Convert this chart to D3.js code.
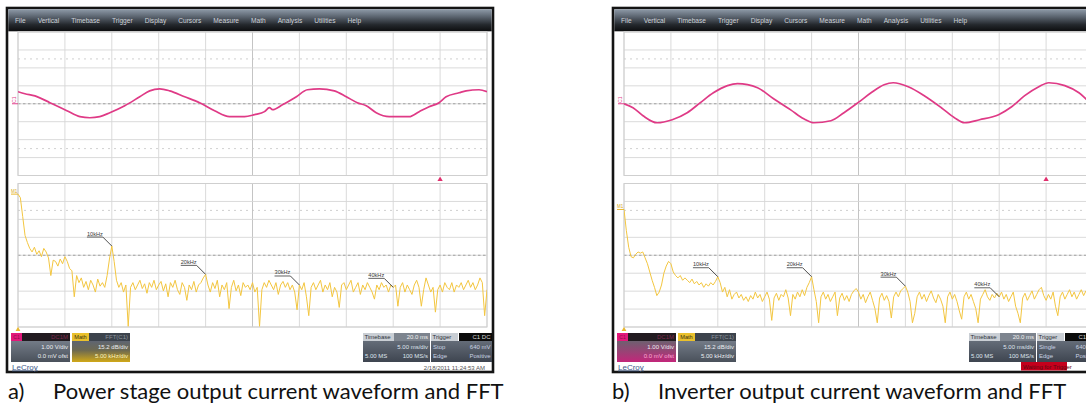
<!DOCTYPE html>
<html><head><meta charset="utf-8">
<script src="https://cdn.jsdelivr.net/npm/d3@7"></script>
<style>body{margin:0;background:#fff;} svg{display:block;}</style>
</head><body>
<svg id="c" width="1086" height="404"></svg>
<script>
// ---------------- DATA ----------------
// Upper trace: time (ms) and current (div, 1.00 V/div)
const timeMsA = [0,0.74,1.81,3.40,5.21,6.60,7.66,8.72,9.79,11.38,12.98,14.04,15.11,16.17,17.77,19.36,20.96,22.55,24.15,25.21,26.28,26.81,27.13,28.19,29.68,30.85,32.13,33.72,35.00,36.17,37.13,38.19,39.57,41.70,42.77,43.83,44.89,45.64,47.02,47.77,49.15,50.0];
const currentA = [0.67,0.56,0.44,0.06,-0.39,-0.72,-0.78,-0.72,-0.50,-0.11,0.39,0.72,0.83,0.72,0.39,0.06,-0.39,-0.72,-0.72,-0.61,-0.44,-0.22,-0.33,-0.06,0.39,0.78,0.83,0.72,0.39,0.06,-0.11,-0.50,-0.72,-0.72,-0.44,-0.17,0.06,0.39,0.61,0.72,0.78,0.67];
const timeMsB = [0,0.96,2.03,3.53,5.14,6.74,8.14,9.53,11.03,12.10,14.24,15.95,17.77,19.17,20.24,22.06,23.45,24.95,26.34,27.73,28.70,30.30,32.01,33.83,35.23,36.30,37.90,39.94,41.33,42.72,44.22,45.29,47.00,48.50,49.57,50.0];
const currentB = [0,-0.22,-0.67,-1.06,-0.89,-0.50,0.06,0.61,1.01,1.12,0.89,0.28,-0.34,-0.84,-1.06,-0.95,-0.50,0.06,0.61,1.06,1.17,0.95,0.45,-0.22,-0.78,-1.06,-0.89,-0.61,-0.17,0.45,0.95,1.17,1.01,0.61,0.11,-0.10];

// FFT traces (dB relative to top of grid, 15.2 dB/div), bins every 0.25 kHz from 0 to 50 kHz
const fftStepKHz = 0.25;
const fftA = [
 -9,-12,-28,-44,-50,-55,-58,-54,-60,-57,-62,-55,-58,-63,-78,-65,-66,-70,-64,-68,
 -62,-66,-72,-74,-96,-78,-84,-80,-88,-83,-90,-82,-86,-92,-81,-87,-84,-88,-78,-64,
 -53,-66,-82,-88,-84,-92,-86,-121,-88,-84,-90,-86,-82,-89,-85,-93,-84,-88,-82,-90,
 -86,-83,-91,-85,-96,-84,-88,-82,-90,-94,-84,-88,-99,-86,-90,-83,-92,-86,-84,-80,
 -77,-86,-92,-84,-89,-82,-96,-86,-90,-84,-106,-88,-82,-91,-86,-95,-84,-88,-86,-90,
 -84,-92,-88,-121,-90,-84,-88,-82,-86,-90,-84,-94,-86,-83,-88,-84,-90,-86,-92,-107,
 -86,-90,-84,-96,-112,-88,-84,-90,-86,-82,-92,-86,-90,-84,-96,-88,-92,-105,-86,-84,
 -90,-86,-82,-92,-88,-84,-94,-86,-90,-84,-88,-92,-98,-86,-90,-84,-88,-86,-92,-86,
 -88,-86,-104,-88,-84,-92,-86,-90,-94,-86,-82,-88,-104,-90,-80,-86,-92,-88,-109,-90,
 -86,-92,-84,-88,-90,-84,-92,-86,-88,-84,-90,-86,-82,-88,-84,-90,-86,-80,-84,-112,-90];
const fftB = [
 -22,-40,-54,-62,-63,-60,-58,-59,-58,-63,-68,-75,-82,-88,-95,-92,-86,-76,-70,-66,
 -68,-75,-78,-80,-78,-82,-80,-82,-84,-81,-85,-83,-86,-84,-88,-85,-87,-84,-86,-83,
 -79,-84,-92,-88,-96,-90,-98,-94,-92,-97,-94,-99,-96,-100,-95,-98,-92,-97,-94,-100,
 -96,-92,-98,-116,-97,-93,-99,-94,-96,-90,-97,-112,-94,-98,-92,-96,-90,-95,-88,-84,
 -79,-90,-100,-118,-96,-92,-98,-94,-100,-96,-92,-112,-97,-93,-99,-95,-100,-94,-91,-89,
 -92,-98,-94,-101,-96,-92,-99,-106,-118,-97,-93,-99,-95,-100,-114,-96,-92,-96,-91,-89,
 -87,-92,-100,-118,-110,-96,-92,-98,-94,-100,-95,-91,-97,-101,-94,-98,-104,-118,-96,-92,
 -98,-94,-100,-108,-115,-96,-92,-98,-94,-100,-106,-118,-98,-94,-90,-96,-99,-94,-97,-93,
 -96,-92,-98,-94,-100,-96,-92,-104,-110,-118,-97,-93,-99,-95,-91,-98,-94,-90,-88,-95,
 -99,-94,-98,-92,-104,-112,-96,-92,-98,-94,-90,-96,-92,-98,-94,-90,-95,-91,-97,-93,-96];

const markerKHz = [10,20,30,40];
const markerLabels = ["10kHz","20kHz","30kHz","40kHz"];

// Grid ticks
const timeTicks = [0,5,10,15,20,25,30,35,40,45,50];
const voltTicks = [-4,-3,-2,-1,0,1,2,3,4];
const dbTicks = [0,-15.2,-30.4,-45.6,-60.8,-76,-91.2,-106.4,-121.6];
const triggerTimeMs = 45;

// Texts
const menuItems = ["File","Vertical","Timebase","Trigger","Display","Cursors","Measure","Math","Analysis","Utilities","Help"];
const captionLetters = ["a)","b)"];
const captionTexts = ["Power stage output current waveform and FFT","Inverter output current waveform and FFT"];
const c1Lines = ["1.00 V/div","0.0 mV ofst"];
const mathLines = ["15.2 dB/div","5.00 kHz/div"];
const timebaseLines = ["20.0 ms","5.00 ms/div","5.00 MS","100 MS/s"];
const triggerModes = ["Stop","Single"];
const triggerLines = ["640 mV","Edge","Positive"];
const dateText = "2/18/2011 11:24:53 AM";
const waitText = "Waiting for Trigger";

// ---------------- DRAWING ----------------
const svg = d3.select("#c");
const defs = svg.append("defs");
function lg(id, stops){
  const g = defs.append("linearGradient").attr("id",id).attr("x1",0).attr("y1",0).attr("x2",0).attr("y2",1);
  stops.forEach(([o,c])=>g.append("stop").attr("offset",o).attr("stop-color",c));
}
lg("menu", [[0,"#8e9aa8"],[0.35,"#59626d"],[0.7,"#24282d"],[1,"#0c0d0f"]]);
lg("bodyGray", [[0,"#737b87"],[1,"#4a515b"]]);
lg("bodyPink", [[0,"#6e6070"],[1,"#c3267a"]]);
lg("bodyYellow", [[0,"#5e6572"],[0.45,"#6e6a50"],[1,"#d0a818"]]);
lg("bodyTb", [[0,"#646c78"],[1,"#3e4550"]]);

const FW = 486, FT = 8, FB = 372;
const GX = 11, GW = 469;
const UT = 32, UB = 175.5, LT = 183.5, LB = 327;
const UI = "'Liberation Sans', Arial, sans-serif";
const CAP = "Lato, 'Open Sans', sans-serif";

const scopes = [
  {ox:7, time:timeMsA, cur:currentA, fft:fftA, c1Sel:false, mathSel:true, trig:triggerModes[0], date:true, wait:false, capDx:[1,46]},
  {ox:613, time:timeMsB, cur:currentB, fft:fftB, c1Sel:true, mathSel:false, trig:triggerModes[1], date:false, wait:true, capDx:[-1,45]}
];

function txt(g, x, y, s, o={}){
  return g.append("text").attr("x",x).attr("y",y).text(s)
    .attr("font-family", o.ff || UI).attr("font-size", o.fs || 6)
    .attr("fill", o.fill || "#eee").attr("text-anchor", o.anchor || "start");
}

scopes.forEach((s, si) => {
  const ox = s.ox;
  const g = svg.append("g");
  // frame
  g.append("rect").attr("x",ox).attr("y",FT).attr("width",FW).attr("height",FB-FT)
    .attr("fill","#fff").attr("stroke","#141414").attr("stroke-width",2.6);
  // menu bar
  g.append("rect").attr("x",ox+1.3).attr("y",FT+1.3).attr("width",FW-2.6).attr("height",22)
    .attr("fill","url(#menu)");
  let mx = ox + 8;
  menuItems.forEach(m => {
    const t = txt(g, mx, 22.5, m, {fs:6.6, fill:"#cdd2d8"});
    mx += t.node().getComputedTextLength() + 12;
  });

  const x = d3.scaleLinear().domain([0,50]).range([ox+GX, ox+GX+GW]);
  const yU = d3.scaleLinear().domain([-4,4]).range([UB, UT]);
  const yL = d3.scaleLinear().domain([-121.6,0]).range([LB, LT]);

  // clip paths
  const cu = "cu"+si, cl = "cl"+si;
  defs.append("clipPath").attr("id",cu).append("rect").attr("x",x(0)).attr("y",UT).attr("width",GW).attr("height",UB-UT);
  defs.append("clipPath").attr("id",cl).append("rect").attr("x",x(0)).attr("y",LT-1).attr("width",GW).attr("height",LB-LT+1);

  function grid(yScale, ticks, top, bottom, center, dotted){
    const gg = g.append("g");
    gg.selectAll(".v").data(timeTicks).join("line")
      .attr("x1",d=>x(d)).attr("x2",d=>x(d)).attr("y1",top).attr("y2",bottom)
      .attr("stroke",d=> d===25 ? "#bdbdbd" : "#d6d6d6").attr("stroke-width",0.9);
    gg.selectAll(".h").data(ticks).join("line")
      .attr("x1",x(0)).attr("x2",x(50)).attr("y1",d=>yScale(d)).attr("y2",d=>yScale(d))
      .attr("stroke","#d6d6d6").attr("stroke-width",0.9);
    dotted.forEach(v => gg.append("line").attr("x1",x(0)).attr("x2",x(50)).attr("y1",yScale(v)).attr("y2",yScale(v))
      .attr("stroke","#c4c4c4").attr("stroke-width",0.8).attr("stroke-dasharray","2,4"));
    gg.append("line").attr("x1",x(0)).attr("x2",x(50)).attr("y1",yScale(center)).attr("y2",yScale(center))
      .attr("stroke","#9a9a9a").attr("stroke-width",0.9).attr("stroke-dasharray","2.5,2.5");
    gg.append("rect").attr("x",x(0)).attr("y",top).attr("width",GW).attr("height",bottom-top)
      .attr("fill","none").attr("stroke","#cfcfcf").attr("stroke-width",1);
  }
  grid(yU, voltTicks, UT, UB, 0, [2.5,-2.5]);
  grid(yL, dbTicks, LT, LB, -60.8, [-22.8]);

  // upper waveform
  const pts = s.time.map((t,i)=>[t, s.cur[i]]);
  g.append("path").attr("clip-path",`url(#${cu})`)
    .attr("d", d3.line().x(d=>x(d[0])).y(d=>yU(d[1])).curve(d3.curveMonotoneX)(pts))
    .attr("fill","none").attr("stroke","#df3a86").attr("stroke-width",1.7).attr("stroke-linejoin","round");

  // FFT
  const fx = d3.scaleLinear().domain([0,50]).range([ox+GX, ox+GX+GW]);
  g.append("path").attr("clip-path",`url(#${cl})`)
    .attr("d", d3.line().x((d,i)=>fx(i*fftStepKHz)).y(d=>yL(d))(s.fft))
    .attr("fill","none").attr("stroke","#f3c640").attr("stroke-width",1).attr("stroke-linejoin","round");

  // markers
  markerKHz.forEach((k,j) => {
    const px = fx(k), py = yL(s.fft[Math.round(k/fftStepKHz)]);
    const ex = px - 9, ey = py - 9;
    g.append("line").attr("x1",px).attr("y1",py).attr("x2",ex).attr("y2",ey).attr("stroke","#3a3a3a").attr("stroke-width",0.9);
    const t = txt(g, ex, ey-1.5, markerLabels[j], {fs:5.6, fill:"#3a3a3a", anchor:"end"});
    const w = t.node().getComputedTextLength();
    g.append("line").attr("x1",ex-w).attr("x2",ex).attr("y1",ey).attr("y2",ey).attr("stroke","#3a3a3a").attr("stroke-width",0.8);
  });

  // channel labels on left edge
  const c1y = yU(0);
  g.append("line").attr("x1",ox+5).attr("x2",ox+GX).attr("y1",c1y).attr("y2",c1y).attr("stroke","#e0408a").attr("stroke-width",1);
  txt(g, 0, 0, "C1", {fs:5, fill:"#e0408a", anchor:"middle"}).attr("transform",`translate(${ox+8.5},${c1y-4}) rotate(-90)`);
  const m1y = yL(s.fft[0]);
  g.append("line").attr("x1",ox+4).attr("x2",ox+GX).attr("y1",m1y).attr("y2",m1y).attr("stroke","#e8b830").attr("stroke-width",1);
  txt(g, ox+4, m1y-1, "M1", {fs:4.5, fill:"#d8a820"});
  // zero-frequency marker (bottom) and trigger marker
  g.append("path").attr("d", d3.symbol().type(d3.symbolTriangle).size(10)()).attr("transform",`translate(${fx(0)},${LB+2.5})`).attr("fill","#e8b830");
  g.append("path").attr("d", d3.symbol().type(d3.symbolTriangle).size(12)()).attr("transform",`translate(${x(triggerTimeMs)},${(UB+LT)/2})`).attr("fill","#e0306e");

  // ---- info boxes ----
  const by = 333, hh = 8, bh = 21;
  // C1 box
  g.append("rect").attr("x",ox+4).attr("y",by).attr("width",11).attr("height",hh).attr("fill","#e2187a");
  g.append("rect").attr("x",ox+15).attr("y",by).attr("width",48).attr("height",hh).attr("fill","#221b20");
  txt(g, ox+61, by+6.3, "DC1M", {fs:6, fill:"#7e2a4c", anchor:"end"});
  txt(g, ox+9.5, by+6.2, "C1", {fs:5, fill:"#8a1048", anchor:"middle"});
  g.append("rect").attr("x",ox+4).attr("y",by+hh).attr("width",59).attr("height",bh).attr("fill", s.c1Sel ? "url(#bodyPink)" : "url(#bodyGray)");
  txt(g, ox+61, by+hh+8, c1Lines[0], {fs:6, fill:"#eceff2", anchor:"end"});
  txt(g, ox+61, by+hh+17, c1Lines[1], {fs:6, fill: s.c1Sel ? "#ffa6d6" : "#eceff2", anchor:"end"});
  // Math box
  g.append("rect").attr("x",ox+65).attr("y",by).attr("width",17).attr("height",hh).attr("fill","#e9c02c");
  txt(g, ox+73.5, by+6.3, "Math", {fs:5.6, fill:"#3a3210", anchor:"middle"});
  g.append("rect").attr("x",ox+82).attr("y",by).attr("width",41).attr("height",hh).attr("fill","#3c434c");
  txt(g, ox+121, by+6.3, "FFT(C1)", {fs:6, fill:"#8c939c", anchor:"end"});
  g.append("rect").attr("x",ox+65).attr("y",by+hh).attr("width",58).attr("height",bh).attr("fill", s.mathSel ? "url(#bodyYellow)" : "url(#bodyGray)");
  txt(g, ox+121, by+hh+8, mathLines[0], {fs:6, fill:"#eceff2", anchor:"end"});
  txt(g, ox+121, by+hh+17, mathLines[1], {fs:6, fill: s.mathSel ? "#fff4b8" : "#eceff2", anchor:"end"});
  // Timebase box
  const tx = ox+356;
  g.append("rect").attr("x",tx).attr("y",by).attr("width",31).attr("height",hh).attr("fill","#c9ced4");
  txt(g, tx+1.5, by+6.3, "Timebase", {fs:6, fill:"#2c3038"});
  g.append("rect").attr("x",tx+31).attr("y",by).attr("width",36).attr("height",hh).attr("fill","#7d848e");
  txt(g, tx+65, by+6.3, timebaseLines[0], {fs:6, fill:"#f0f0f0", anchor:"end"});
  g.append("rect").attr("x",tx).attr("y",by+hh).attr("width",67).attr("height",bh).attr("fill","url(#bodyTb)");
  txt(g, tx+65, by+hh+8, timebaseLines[1], {fs:6, fill:"#dfe5ee", anchor:"end"});
  txt(g, tx+2, by+hh+17, timebaseLines[2], {fs:6, fill:"#dfe5ee"});
  txt(g, tx+65, by+hh+17, timebaseLines[3], {fs:6, fill:"#dfe5ee", anchor:"end"});
  // Trigger box
  const rx = ox+424;
  g.append("rect").attr("x",rx).attr("y",by).attr("width",27).attr("height",hh).attr("fill","#c9ced4");
  txt(g, rx+1.5, by+6.3, "Trigger", {fs:6, fill:"#2c3038"});
  g.append("rect").attr("x",rx+28).attr("y",by).attr("width",33).attr("height",hh).attr("fill","#0b0b0b");
  txt(g, rx+59.5, by+6.3, "C1 DC", {fs:6, fill:"#d8d8d8", anchor:"end"});
  g.append("rect").attr("x",rx).attr("y",by+hh).attr("width",61).attr("height",bh).attr("fill","url(#bodyTb)");
  txt(g, rx+2, by+hh+8, s.trig, {fs:6, fill:"#c9d3e2"});
  txt(g, rx+59.5, by+hh+8, triggerLines[0], {fs:6, fill:"#c9d3e2", anchor:"end"});
  txt(g, rx+2, by+hh+17, triggerLines[1], {fs:6, fill:"#c9d3e2"});
  txt(g, rx+59.5, by+hh+17, triggerLines[2], {fs:6, fill:"#c9d3e2", anchor:"end"});

  // LeCroy logo text
  txt(g, ox+5, 369.5, "LeCroy", {fs:8, fill:"#3e5a8a"}).attr("text-decoration","underline");
  if (s.date) txt(g, ox+478, 369.5, dateText, {fs:6, fill:"#555"}).attr("text-anchor","end");
  if (s.wait) {
    g.append("rect").attr("x",ox+408).attr("y",362).attr("width",46).attr("height",8.5).attr("fill","#c4001c");
    txt(g, ox+410, 368.8, waitText, {fs:6, fill:"#5c0a10"});
  }

  // caption
  txt(g, ox+s.capDx[0], 399, captionLetters[si], {ff:CAP, fs:22, fill:"#111"});
  txt(g, ox+s.capDx[1], 399, captionTexts[si], {ff:CAP, fs:22, fill:"#111"});
});
</script>
</body></html>
